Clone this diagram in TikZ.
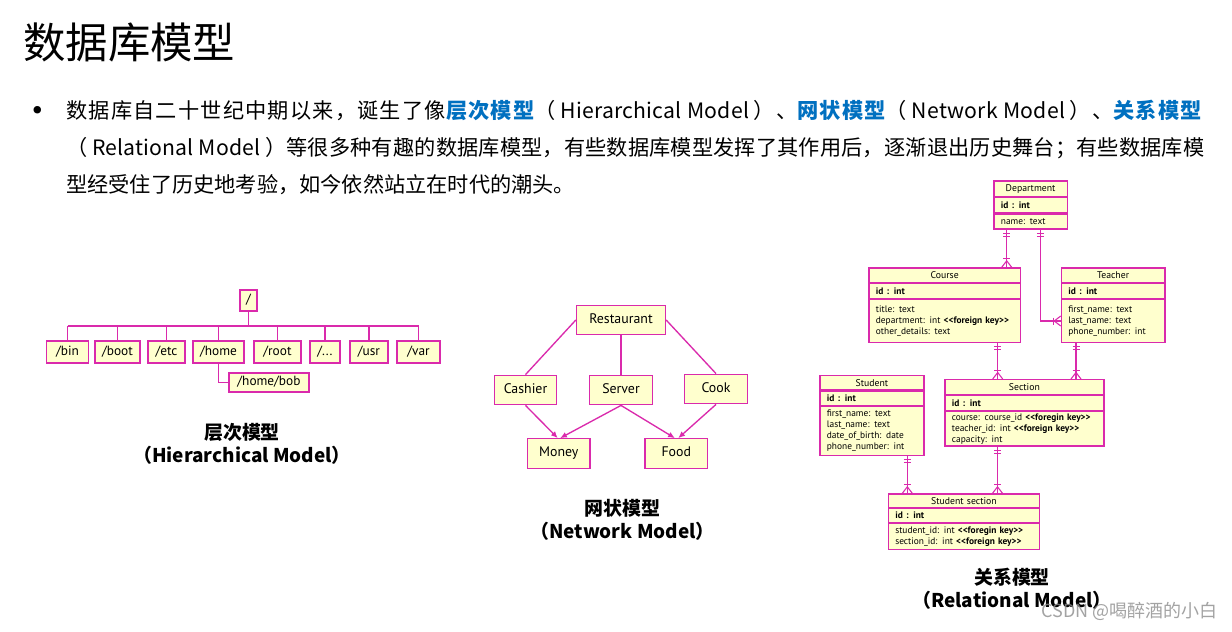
\documentclass[tikz,border=0pt]{standalone}
\usepackage{fontspec}
\setmainfont{Noto Sans CJK SC}
\newfontfamily\dfont{PT Sans}
\usetikzlibrary{calc,arrows.meta}
\definecolor{mag}{RGB}{218,42,172}
\definecolor{yel}{RGB}{255,255,206}
\definecolor{hblue}{RGB}{0,112,192}
\newcommand\hl[1]{{\color{hblue}\bfseries #1}}
\newcommand\lsp[1]{{\addfontfeature{LetterSpace=5.7}#1}}
\newcommand\lat[1]{{\addfontfeature{LetterSpace=1.3}#1}}
\newcommand\fk[1]{\textbf{<\kern0pt<#1>\kern0pt>}}
\newcommand\ertab[9]{%
  \pgfmathsetmacro\ertw{(#4-14)*0.75}%
  \pgfmathsetmacro\erw{#4*0.75}%
  \node[erbox, font=\dfont\fontsize{7.3pt}{8.25pt}\selectfont, anchor=north west, minimum width=\erw pt, minimum height=#5*0.75pt, text width=\ertw pt, align=center] (#1) at (#2,#3) {#8};
  \node[erbox, anchor=north west, minimum width=\erw pt, minimum height=#6*0.75pt, text width=\ertw pt, align=left] (#1id) at (#1.south west) {\textbf{id : int}};
  \node[erbox, anchor=north west, minimum width=\erw pt, minimum height=#7*0.75pt, text width=\ertw pt, align=left] (#1at) at (#1id.south west) {#9};
}
\newcommand\erv[2]{%
  \draw[erline] (#1) -- (#2);
  \draw[erline] ($(#1)+(-3.5,4)$) -- ++(7,0) ($(#1)+(-3.5,7)$) -- ++(7,0);
  \draw[erline] ($(#2)+(-3.5,-8.5)$) -- ++(7,0);
  \draw[erline] ($(#2)+(-5,0)$) -- ($(#2)+(0,-6.5)$) -- ($(#2)+(5,0)$);
}
\begin{document}
\begin{tikzpicture}[x=0.75pt,y=-0.75pt,
  box/.style={draw=mag, fill=yel, line width=1pt, inner sep=0pt, text height=7.2pt, text depth=2.2pt, font=\dfont\fontsize{10pt}{11pt}\selectfont},
  sz/.style 2 args={minimum width=#1*0.75pt, minimum height=#2*0.75pt},
  conn/.style={draw=mag, line width=1pt},
  arr/.style={conn, -{Latex[length=5pt,width=4.5pt]}},
  erbox/.style={draw=mag, fill=yel, line width=0.9pt, inner xsep=5.25pt, inner ysep=0.5pt, font=\dfont\fontsize{7.05pt}{8.25pt}\selectfont},
  erline/.style={draw=mag, line width=0.8pt},
  txt/.style={inner sep=0pt, font=\fontsize{15.9pt}{18pt}\selectfont},
  captxt/.style={inner sep=0pt, align=center, font=\bfseries\fontsize{14.2pt}{16.9pt}\selectfont}
  ]
\fill[white] (0,0) rectangle (1232,632);
\useasboundingbox (0,0) rectangle (1232,632);

% title and text
\node[anchor=west, inner sep=0pt, font=\fontsize{31.8pt}{36pt}\selectfont] (title) at (23,42) {数据库模型};
\node[inner sep=0pt, anchor=base west, font=\dfont\fontsize{20pt}{20pt}\selectfont] (bul) at (31,118) {•};
\node[txt, anchor=base west] (l1) at (66,118) {\lsp{数据库自二十世纪中期以来，诞生了像\hl{层次模型}（}\ \lat{Hierarchical Model}\ \lsp{）、\hl{网状模型}（}\ \lat{Network Model}\ \lsp{）、\hl{关系模型}}};
\node[txt, anchor=base west] (l2) at (66,155) {\addfontfeature{LetterSpace=0.7}（ Relational Model ）等很多种有趣的数据库模型，有些数据库模型发挥了其作用后，逐渐退出历史舞台；有些数据库模};
\node[txt, anchor=base west] (l3) at (66,192) {型经受住了历史地考验，如今依然站立在时代的潮头。};

% hierarchical
\node[box, sz={17}{21}] (root) at (248.5,300.5) {/};
\node[box, sz={41.6}{22}] (bin) at (67.5,352) {/bin};
\node[box, sz={45}{22}] (boot) at (117.5,352) {/boot};
\node[box, sz={37}{22}] (etc) at (166.5,352) {/etc};
\node[box, sz={51}{22}] (home) at (218.5,352) {/home};
\node[box, sz={47}{22}] (rt) at (277.5,352) {/root};
\node[box, sz={30}{22}] (dots) at (325,352) {/...};
\node[box, sz={38}{22}] (usr) at (369,352) {/usr};
\node[box, sz={43}{22}] (var) at (418.5,352) {/var};
\node[box, sz={80}{19}] (bob) at (269,382.5) {/home/bob};
\coordinate (bus) at (0,326);
\draw[conn] (root.south) -- (root.south |- bus);
\draw[conn] (bin.north |- bus) -- (var.north |- bus);
\foreach \n in {bin,boot,etc,home,rt,dots,usr,var} \draw[conn] (\n.north) -- (\n.north |- bus);
\draw[conn] (home.south) |- (bob.west);
\node[captxt] (capH) at (242,444) {层次模型\\（Hierarchical Model）};

% network
\node[box, sz={89}{29.5}, font=\dfont\fontsize{10.4pt}{11pt}\selectfont] (rest) at (621,320) {Restaurant};
\node[box, sz={62.5}{29.5}, font=\dfont\fontsize{10.4pt}{11pt}\selectfont] (cash) at (525.5,390) {Cashier};
\node[box, sz={63}{29.5}, font=\dfont\fontsize{10.4pt}{11pt}\selectfont] (serv) at (621,390) {Server};
\node[box, sz={63}{29.5}, font=\dfont\fontsize{10.4pt}{11pt}\selectfont] (cook) at (716,389) {Cook};
\node[box, sz={62.7}{29.5}, font=\dfont\fontsize{10.4pt}{11pt}\selectfont] (money) at (558.7,453.5) {Money};
\node[box, sz={62.7}{29.5}, font=\dfont\fontsize{10.4pt}{11pt}\selectfont] (food) at (676.3,453.5) {Food};
\draw[conn] (rest.west) -- (cash.north);
\draw[conn] (rest.south) -- (serv.north);
\draw[conn] (rest.east) -- (cook.north);
\draw[arr] (cash.south) -- ($(money.north)+(-1,0)$);
\draw[arr] (serv.south) -- ($(money.north)+(1.5,0)$);
\draw[arr] (serv.south) -- ($(food.north)+(-1.5,0)$);
\draw[arr] (cook.south) -- ($(food.north)+(2,0)$);
\node[captxt] (capN) at (622.5,520) {网状模型\\（Network Model）};

% relational
\ertab{dept}{993.3}{180.3}{73.4}{15.4}{15.3}{15}{Department}{name: text}
\ertab{course}{868.3}{267.3}{151.7}{14.4}{15}{42.6}{Course}{title: text\\department: int \fk{foreign key}\\other\_details: text}
\ertab{teacher}{1060.7}{267.3}{103.6}{14.4}{15}{42.6}{Teacher}{first\_name: text\\last\_name: text\\phone\_number: int}
\ertab{student}{819.3}{374.7}{104}{14.6}{14}{49}{Student}{first\_name: text\\last\_name: text\\date\_of\_birth: date\\phone\_number: int}
\ertab{section}{944.3}{379}{159}{15}{14.3}{34.7}{Section}{course: course\_id \fk{foregin key}\\teacher\_id: int \fk{foreign key}\\capacity: int}
\ertab{stusec}{887.7}{493.3}{151.3}{13.4}{14}{26}{Student section}{student\_id: int \fk{foregin key}\\section\_id: int \fk{foreign key}}

\coordinate (c1) at ($(deptat.south west)+(13.4,0)$);
\coordinate (c1b) at (c1 |- course.north);
\erv{c1}{c1b}
\coordinate (c2) at ($(courseat.south west)+(129.4,0)$);
\coordinate (c2b) at (c2 |- section.north);
\erv{c2}{c2b}
\coordinate (c3) at ($(teacherat.south west)+(15.3,0)$);
\coordinate (c3b) at (c3 |- section.north);
\erv{c3}{c3b}
\coordinate (c4) at ($(studentat.south west)+(88,0)$);
\coordinate (c4b) at (c4 |- stusec.north);
\erv{c4}{c4b}
\coordinate (c5) at ($(sectionat.south west)+(53.2,0)$);
\coordinate (c5b) at (c5 |- stusec.north);
\erv{c5}{c5b}
% department -> teacher
\coordinate (d2) at ($(deptat.south west)+(47,0)$);
\coordinate (e2) at (teacherat.west);
\draw[erline] (d2) |- (e2);
\draw[erline] ($(d2)+(-3.5,4)$) -- ++(7,0) ($(d2)+(-3.5,7)$) -- ++(7,0);
\draw[erline] ($(e2)+(-7,-3.5)$) -- ++(0,7);
\draw[erline] ($(e2)+(0,-5)$) -- ($(e2)+(-6.5,0)$) -- ($(e2)+(0,5)$);

\node[captxt] (capR) at (1012,589) {关系模型\\（Relational Model）};
\node[anchor=east, inner sep=0pt, text=black!45, opacity=0.8, font=\fontsize{13.5pt}{15pt}\selectfont] (wm) at (1218,611) {CSDN @喝醉酒的小白};
\end{tikzpicture}
\end{document}
